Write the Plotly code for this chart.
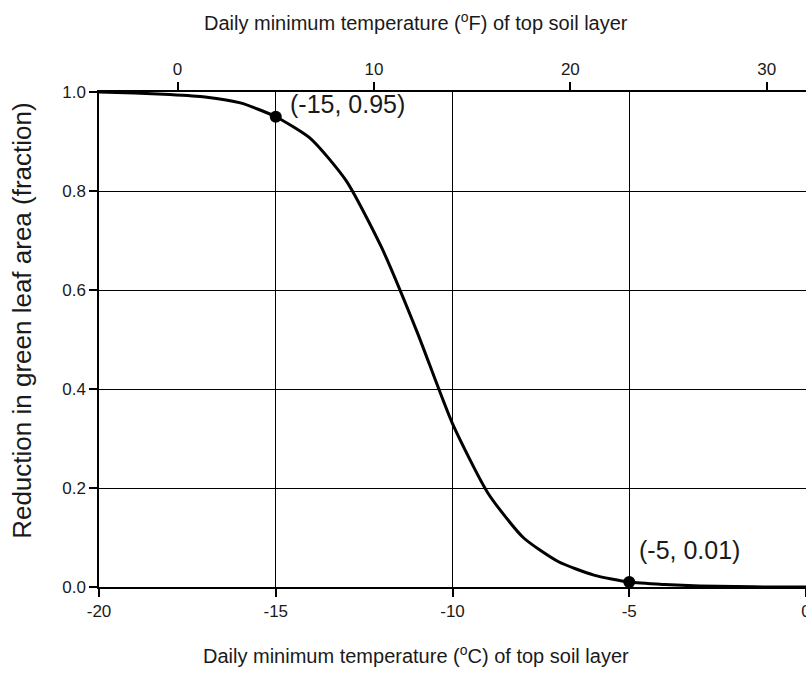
import plotly.graph_objects as go

# Data
temp_c = [-20, -19, -18, -17, -16, -15, -14, -13, -12, -11, -10, -9, -8, -7, -6, -5, -4, -3, -2, -1, 0]
reduction = [1.0, 0.998, 0.995, 0.99, 0.978, 0.95, 0.905, 0.82, 0.685, 0.515, 0.33, 0.19, 0.10,
             0.051, 0.024, 0.01, 0.005, 0.002, 0.001, 0.0, 0.0]
marked_c = [-15, -5]
marked_v = [0.95, 0.01]
marked_labels = ["(-15, 0.95)", "(-5, 0.01)"]
x_ticks_c = [-20, -15, -10, -5, 0]
x_ticks_f = [0, 10, 20, 30]
y_ticks = [0.0, 0.2, 0.4, 0.6, 0.8, 1.0]
f_range = [-4, 32]

FONT = "Liberation Sans, Arial, sans-serif"
TXT = "#1a1a1a"

fig = go.Figure()
fig.add_trace(go.Scatter(x=temp_c, y=reduction, mode="lines",
                         line=dict(color="black", width=3, shape="spline", smoothing=0.6),
                         hoverinfo="skip", showlegend=False))
fig.add_trace(go.Scatter(x=marked_c, y=marked_v, mode="markers",
                         marker=dict(color="black", size=12),
                         showlegend=False))
# invisible trace for the top (deg F) axis
fig.add_trace(go.Scatter(x=f_range, y=[0.5, 0.5], xaxis="x2", mode="lines",
                         line=dict(width=0), opacity=0,
                         showlegend=False, hoverinfo="skip"))

label_shift = [(12, 13), (8, 32)]
for (cx, vy, txt), (dx, dy) in zip(zip(marked_c, marked_v, marked_labels), label_shift):
    fig.add_annotation(x=cx, y=vy, text=txt, showarrow=False, xanchor="left", yanchor="middle",
                       xshift=dx, yshift=dy, font=dict(family=FONT, size=25, color=TXT))

# axis titles
fig.add_annotation(xref="paper", yref="paper", x=0.4484, y=1.1434, showarrow=False,
                   xanchor="center", yanchor="middle",
                   text="Daily minimum temperature (<sup>o</sup>F) of top soil layer",
                   font=dict(family=FONT, size=20, color=TXT))
fig.add_annotation(xref="paper", yref="paper", x=0.4484, y=-0.1354, showarrow=False,
                   xanchor="center", yanchor="middle",
                   text="Daily minimum temperature (<sup>o</sup>C) of top soil layer",
                   font=dict(family=FONT, size=20, color=TXT))
fig.add_annotation(xref="paper", yref="paper", x=-0.108, y=0.537, showarrow=False,
                   xanchor="center", yanchor="middle", textangle=-90,
                   text="Reduction in green leaf area (fraction)",
                   font=dict(family=FONT, size=26, color=TXT))

axis_common = dict(ticks="outside", ticklen=8, tickcolor="black", tickwidth=1.5,
                   showline=True, linecolor="black", linewidth=1.5, zeroline=False,
                   automargin=False, ticklabeloverflow="allow",
                   tickfont=dict(size=17, color=TXT, family=FONT))

fig.update_layout(
    width=806, height=673,
    margin=dict(l=99, r=0, t=92, b=86),
    plot_bgcolor="white", paper_bgcolor="white",
    font=dict(family=FONT, color=TXT),
    xaxis=dict(range=[-20, 0], tickvals=x_ticks_c, ticktext=[str(v) for v in x_ticks_c],
               showgrid=True, gridcolor="black", gridwidth=1.2, **axis_common),
    xaxis2=dict(range=f_range, overlaying="x", side="top", anchor="y",
                tickvals=x_ticks_f, showgrid=False, **axis_common),
    yaxis=dict(range=[0, 1.0], tickvals=y_ticks, ticktext=[f"{v:.1f}" for v in y_ticks],
               showgrid=True, gridcolor="black", gridwidth=1.2, **axis_common),
)

fig.write_html("out.html", config={"displayModeBar": False},
               post_script="document.body.style.margin='0';document.body.style.overflow='hidden';")
